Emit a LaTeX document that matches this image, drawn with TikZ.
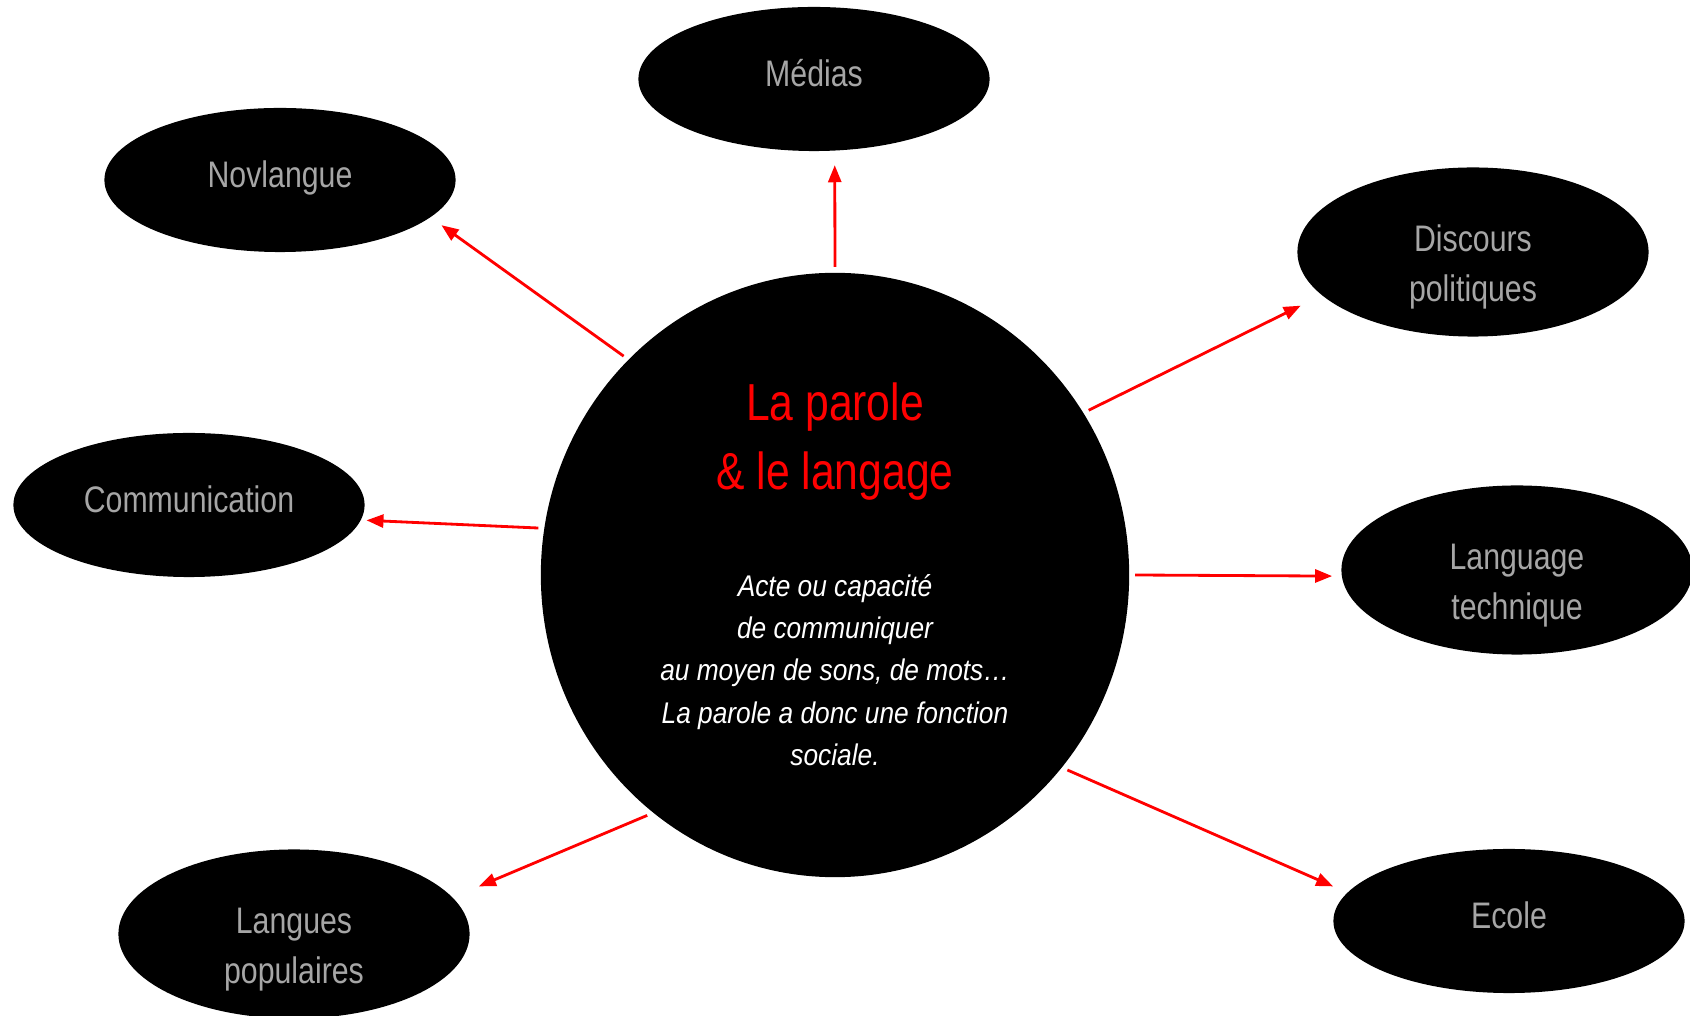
\documentclass[tikz,border=0pt]{standalone}
\usepackage{fontspec}
\setmainfont{Liberation Sans}[FakeStretch=0.82]
\newfontfamily\corps{Liberation Sans}[FakeStretch=0.88]
\usepackage{xcolor}
\usepackage{tikz}
\usetikzlibrary{shapes}
\usetikzlibrary{arrows.meta}
\definecolor{grisclair}{RGB}{166,166,166}

\begin{document}
\begin{tikzpicture}[x=0.01cm, y=-0.01cm,
    bulle/.style={ellipse, fill=black, inner sep=0pt, minimum width=3.51cm, minimum height=1.44cm,
      text=grisclair, align=center, font=\fontsize{10.5}{14.1}\selectfont,
      text height=4.4pt, text depth=0pt},
    grandebulle/.style={bulle, minimum height=1.69cm, text height=28.2pt, text depth=0pt},
    fleche/.style={red, line width=0.8pt, -{Triangle[length=0.17cm, width=0.13cm]}}]

      \useasboundingbox (0,0) rectangle (1690,1016);
      \fill[white] (0,0) rectangle (1690,1016);

      % centre
      \node[ellipse, fill=black, minimum width=5.88cm, minimum height=6.04cm, outer sep=0.06cm] (parole) at (835,575) {};
      \node[red, align=center, font=\fontsize{14.8}{19.6}\selectfont] (titre) at (835,442) {La parole\\ \& le langage};
      \node[white, align=center, font=\corps\itshape\fontsize{8.5}{12}\selectfont] (definition) at (835,670)
        {Acte ou capacité\\ de communiquer\\ au moyen de sons, de mots…\\ La parole a donc une fonction\\ sociale.};

      % bulles
      \node[bulle] (medias) at (814,79) {Médias};
      \node[bulle] (novlangue) at (280,180) {Novlangue};
      \node[grandebulle] (discours) at (1473,252) {Discours\\ politiques};
      \node[bulle] (communication) at (189,505) {Communication};
      \node[grandebulle] (technique) at (1517,570) {Language\\ technique};
      \node[bulle] (ecole) at (1509,921) {Ecole};
      \node[grandebulle] (populaires) at (294,934) {Langues\\ populaires};

      \foreach \cible/\depart/\arrivee/\ecart in {medias/90/286/0.14, novlangue/134/346/0.13,
          discours/33/196/0.23, communication/171/355/0.05, technique/0/182/0.09,
          ecole/320/170/0.15, populaires/232/13/0.28}{
        \draw[fleche, shorten >=\ecart cm] (parole.\depart) -- (\cible.\arrivee);
      }

\end{tikzpicture}
\end{document}
